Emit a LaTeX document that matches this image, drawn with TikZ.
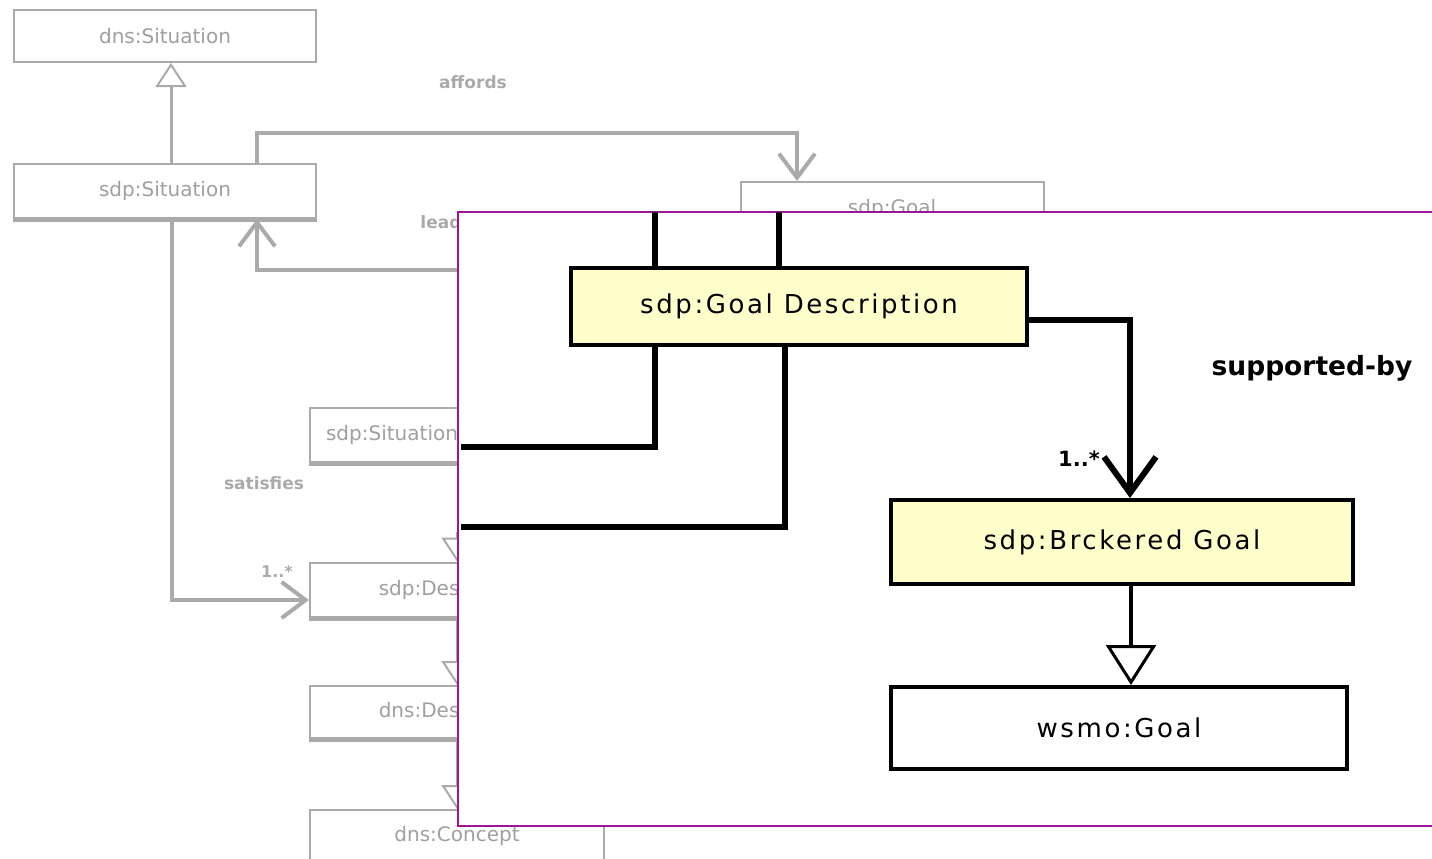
\documentclass[tikz,border=0pt]{standalone}
\usepackage{fontspec}
\usepackage{tikz}
\usetikzlibrary{arrows.meta}

\newfontfamily\umlfont[LetterSpace=10]{DejaVu Sans}
\newfontfamily\greyfont{DejaVu Sans}
\newfontfamily\tagfont{DejaVu Sans}

\definecolor{gline}{RGB}{170,170,170}
\definecolor{gtext}{RGB}{160,160,160}
\definecolor{lemon}{RGB}{255,255,204}
\definecolor{zoomframe}{RGB}{160,20,150}

\tikzset{
  gbox/.style={draw=gline, line width=2pt, fill=white, text=gtext, inner sep=0pt,
    font=\greyfont\fontsize{20}{24}\selectfont, minimum width=294pt, minimum height=52pt},
  shadowline/.style={draw=gline, line width=5pt},
  glabel/.style={text=gline, font=\tagfont\bfseries\fontsize{17}{20}\selectfont, inner sep=0pt},
  gconn/.style={draw=gline, line width=4pt},
  gnav/.style={gconn, -{Straight Barb[length=24pt, width=36pt]}},
  gsub/.style={draw=gline, line width=3pt, -{Triangle[open, length=24pt, width=31pt, line width=2pt]}},
  ybox/.style={draw=black, line width=4pt, fill=lemon, inner sep=0pt,
    font=\umlfont\fontsize{26}{30}\selectfont},
  wbox/.style={ybox, fill=white},
  blabel/.style={text=black, font=\tagfont\bfseries\fontsize{26.5}{30}\selectfont, inner sep=0pt},
  bline/.style={draw=black, line width=6pt},
  bnav/.style={bline, -{Straight Barb[length=36pt, width=52pt]}},
  bsub/.style={draw=black, line width=4pt, -{Triangle[open, length=40pt, width=50pt, line width=3pt]}}
}

\begin{document}
\begin{tikzpicture}[x=1pt, y=-1pt]
  \useasboundingbox (0,0) rectangle (1432,859);

  % grey diagram behind the zoom
  \node[gbox, minimum width=302pt] (sitDns) at (165,36) {dns:Situation};
  \node[gbox, minimum width=302pt, minimum height=54pt] (sitSdp) at (165,191) {sdp:Situation};
  \node[gbox, minimum width=303pt, minimum height=54pt] (goal) at (892,209) {sdp:Goal};
  \node[gbox, minimum width=164pt, minimum height=54pt] (sitMid) at (392,435) {sdp:Situation};
  \node[gbox, minimum height=55pt] (descSdp) at (457,590) {sdp:Description};
  \node[gbox] (descDns) at (457,712) {dns:Description};
  \node[gbox] (concept) at (457,836) {dns:Concept};

  \foreach \n in {sitSdp, sitMid, descSdp, descDns}
    \draw[shadowline] (\n.south west) -- (\n.south east);

  \draw[gsub] ([xshift=6pt]sitSdp.north) -- ([xshift=6pt]sitDns.south);

  \coordinate (affA) at (257,133);
  \coordinate (affB) at (797,133);
  \draw[gnav] (affA |- sitSdp.north) -- (affA) -- (affB) -- (affB |- goal.north);
  \node[glabel] (aff) at (473,82) {affords};

  \coordinate (leadA) at (257,270);
  \draw[gnav] (goal.south) |- (leadA) -- (leadA |- sitSdp.south);
  \node[glabel] (lead) at (446,222) {leads};

  \draw[gnav] ([xshift=7pt]sitSdp.south) |- ([yshift=-10pt]descSdp.west);
  \node[glabel] (sat) at (264,483) {satisfies};
  \node[glabel, font=\tagfont\bfseries\fontsize{16}{18}\selectfont] (multA) at (277,572) {1..*};

  \draw[gsub] ([yshift=30pt]descSdp.north) -- (descSdp.north);
  \draw[gsub] (descSdp.south) -- (descDns.north);
  \draw[gsub] (descDns.south) -- (concept.north);

  % zoomed part
  \node[draw=zoomframe, line width=2pt, fill=white, inner sep=0pt, anchor=north west,
    minimum width=1000pt, minimum height=614pt] (zoom) at (457,211) {};

  \node[ybox, minimum width=456pt, minimum height=77pt] (goalDesc) at (799,306) {sdp:Goal Description};
  \node[ybox, minimum width=462pt, minimum height=84pt] (broker) at (1122,542) {sdp:Brckered Goal};
  \node[wbox, minimum width=456pt, minimum height=82pt] (wsmo) at (1119,728) {wsmo:Goal};

  \coordinate (upA) at (655,212);
  \coordinate (upB) at (779,212);
  \draw[bline] (upA) -- (upA |- goalDesc.north);
  \draw[bline] (upB) -- (upB |- goalDesc.north);

  \coordinate (outA) at (461,447);
  \coordinate (outB) at (461,527);
  \draw[bline] (goalDesc.south -| upA) |- (outA);
  \draw[bline] (goalDesc.south -| 785,0) |- (outB);

  \draw[bnav] ([yshift=-14pt]goalDesc.east) -| ([xshift=8pt]broker.north);
  \node[blabel] (supp) at (1312,368) {supported-by};
  \node[blabel, font=\tagfont\bfseries\fontsize{21}{24}\selectfont] (multB) at (1079,459) {1..*};

  \draw[bsub] ([xshift=9pt]broker.south) -- ([xshift=9pt]broker.south |- wsmo.north);
\end{tikzpicture}
\end{document}
